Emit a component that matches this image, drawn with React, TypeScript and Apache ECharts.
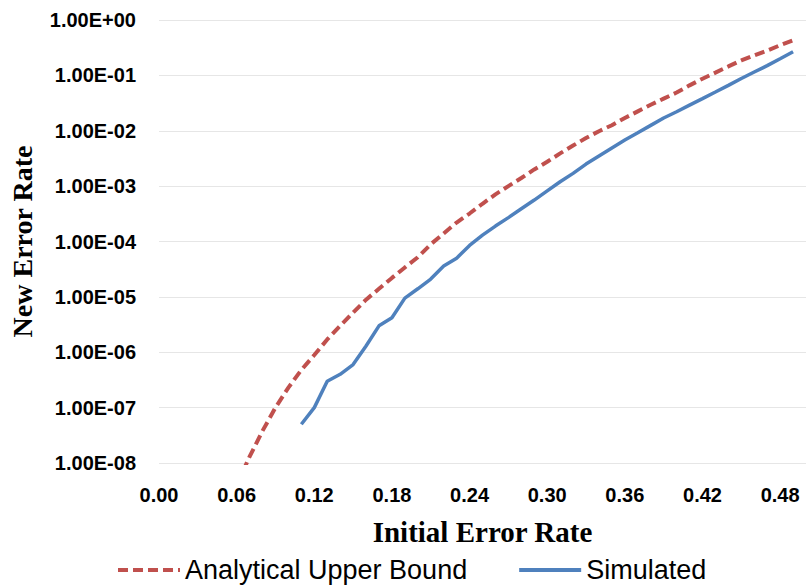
import React, { useEffect, useRef } from "react";
import * as echarts from "echarts";

const xBound: number[] = [0.06, 0.07, 0.08, 0.09, 0.10, 0.11, 0.12, 0.13, 0.14, 0.15, 0.16, 0.17, 0.18, 0.19, 0.20, 0.21, 0.22, 0.23, 0.24, 0.25, 0.26, 0.27, 0.28, 0.29, 0.30, 0.31, 0.32, 0.33, 0.34, 0.35, 0.36, 0.37, 0.38, 0.39, 0.40, 0.41, 0.42, 0.43, 0.44, 0.45, 0.46, 0.47, 0.48, 0.49];
const analyticalUpperBound: number[] = [4.0e-9, 1.3e-8, 3.8e-8, 1.0e-7, 2.3e-7, 4.8e-7, 8.9e-7, 1.7e-6, 3.0e-6, 5.2e-6, 8.9e-6, 1.4e-5, 2.2e-5, 3.4e-5, 5.2e-5, 8.9e-5, 1.4e-4, 2.2e-4, 3.2e-4, 4.8e-4, 7.1e-4, 1.0e-3, 1.4e-3, 2.0e-3, 2.75e-3, 3.9e-3, 5.4e-3, 7.4e-3, 9.8e-3, 1.26e-2, 1.7e-2, 2.24e-2, 2.95e-2, 3.8e-2, 4.9e-2, 6.6e-2, 8.7e-2, 1.12e-1, 1.45e-1, 1.86e-1, 2.3e-1, 2.8e-1, 3.5e-1, 4.3e-1];

const xSim: number[] = [0.11, 0.12, 0.13, 0.14, 0.15, 0.16, 0.17, 0.18, 0.19, 0.20, 0.21, 0.22, 0.23, 0.24, 0.25, 0.26, 0.27, 0.28, 0.29, 0.30, 0.31, 0.32, 0.33, 0.34, 0.35, 0.36, 0.37, 0.38, 0.39, 0.40, 0.41, 0.42, 0.43, 0.44, 0.45, 0.46, 0.47, 0.48, 0.49];
const simulated: number[] = [5e-8, 1e-7, 3e-7, 4e-7, 6e-7, 1.3e-6, 3e-6, 4.2e-6, 9.5e-6, 1.4e-5, 2.1e-5, 3.6e-5, 5e-5, 8.5e-5, 1.3e-4, 1.9e-4, 2.7e-4, 3.9e-4, 5.6e-4, 8.2e-4, 1.2e-3, 1.7e-3, 2.5e-3, 3.5e-3, 4.9e-3, 6.8e-3, 9.2e-3, 1.25e-2, 1.7e-2, 2.2e-2, 2.9e-2, 3.8e-2, 5.0e-2, 6.6e-2, 8.8e-2, 1.15e-1, 1.5e-1, 2.0e-1, 2.68e-1];

const seriesNames: string[] = ["Analytical Upper Bound", "Simulated"];
const xAxisTitle = "Initial Error Rate";
const yAxisTitle = "New Error Rate";

function sci(v: number): string {
  const s = v.toExponential(2);
  const [m, e] = s.split("e");
  const sign = e[0] === "-" ? "-" : "+";
  const digits = e.replace(/[+-]/, "").padStart(2, "0");
  return `${m}E${sign}${digits}`;
}

export default function App() {
  const ref = useRef<HTMLDivElement>(null);
  useEffect(() => {
    if (!ref.current) return;
    const chart = echarts.init(ref.current, null, { renderer: "svg" });
    chart.setOption({
      animation: false,
      backgroundColor: "#ffffff",
      grid: { left: 159, right: 0, top: 20, bottom: 123, containLabel: false },
      legend: {
        left: 111,
        top: 550,
        itemWidth: 62,
        itemHeight: 14,
        itemGap: 50,
        itemStyle: { opacity: 0 },
        lineStyle: { width: 4 },
        textStyle: { fontFamily: "Liberation Sans", fontSize: 27, color: "#000", lineHeight: 30 },
        data: seriesNames,
      },
      xAxis: {
        type: "value",
        min: 0,
        max: 0.5,
        interval: 0.06,
        name: xAxisTitle,
        nameLocation: "middle",
        nameGap: 54,
        nameTextStyle: { fontFamily: "Liberation Serif", fontWeight: "bold", fontSize: 29, color: "#000" },
        axisLine: { show: false },
        axisTick: { show: false },
        splitLine: { show: false },
        axisLabel: {
          margin: 22,
          fontFamily: "Liberation Sans",
          fontWeight: "bold",
          fontSize: 20,
          color: "#000",
          formatter: (v: number) => (v > 0.49 ? "" : v.toFixed(2)),
        },
      },
      yAxis: {
        type: "log",
        logBase: 10,
        min: 1e-8,
        max: 1,
        splitNumber: 8,
        name: yAxisTitle,
        nameLocation: "middle",
        nameGap: 123,
        nameTextStyle: { fontFamily: "Liberation Serif", fontWeight: "bold", fontSize: 28, color: "#000" },
        axisLine: { show: false },
        axisTick: { show: false },
        splitLine: { show: true, lineStyle: { color: "#e6e6e6", width: 1 } },
        axisLabel: {
          margin: 23,
          fontFamily: "Liberation Sans",
          fontWeight: "bold",
          fontSize: 20,
          color: "#000",
          formatter: (v: number) => sci(v),
        },
      },
      series: [
        {
          name: seriesNames[0],
          type: "line",
          symbol: "none",
          clip: true,
          data: xBound.map((x, i) => [x, analyticalUpperBound[i]]),
          lineStyle: { color: "#C0504D", width: 4, type: [10, 5] },
          itemStyle: { color: "#C0504D" },
        },
        {
          name: seriesNames[1],
          type: "line",
          symbol: "none",
          clip: true,
          data: xSim.map((x, i) => [x, simulated[i]]),
          lineStyle: { color: "#4F81BD", width: 3.5 },
          itemStyle: { color: "#4F81BD" },
        },
      ],
    });
    return () => chart.dispose();
  }, []);
  return (
    <div
      ref={ref}
      style={{ position: "fixed", left: 0, top: 0, width: 809, height: 586 }}
    />
  );
}
